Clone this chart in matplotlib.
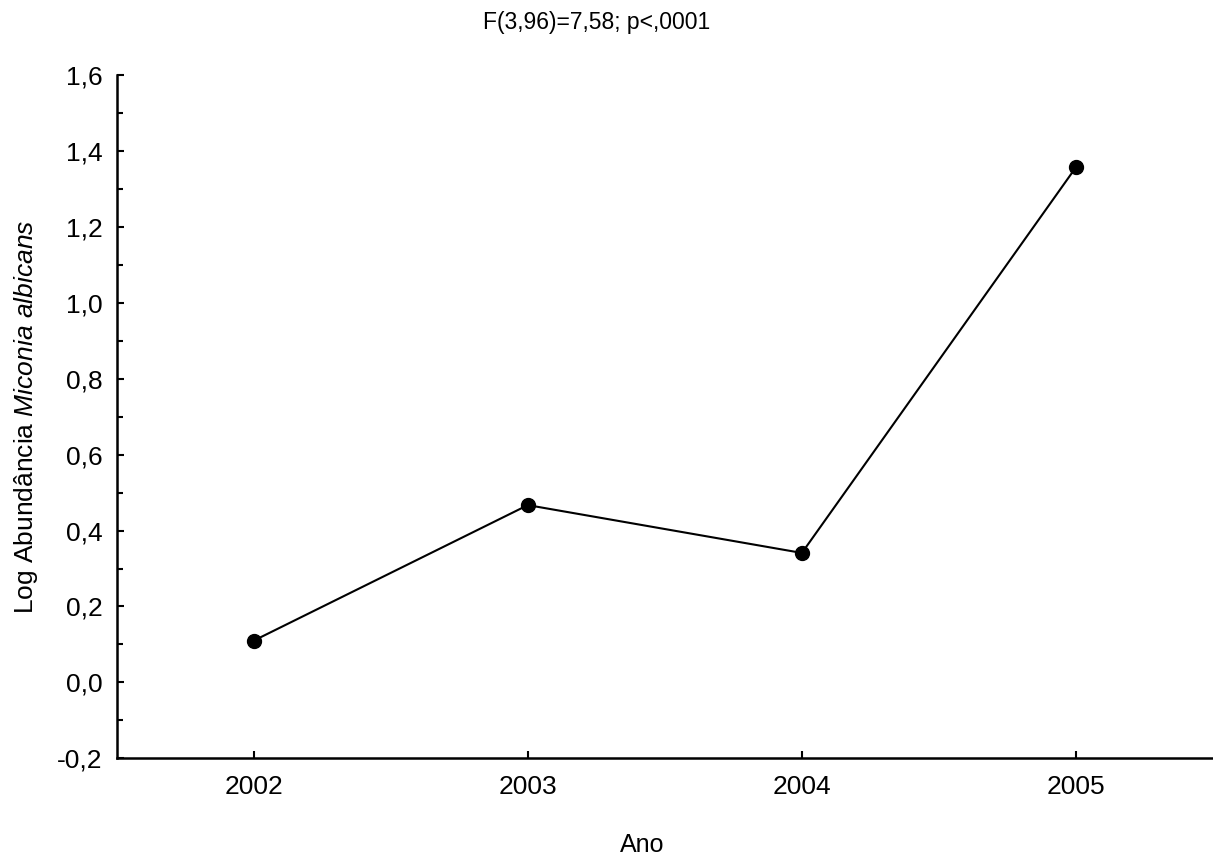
import matplotlib.pyplot as plt
from matplotlib.ticker import FuncFormatter, MultipleLocator

# data
anos = [2002, 2003, 2004, 2005]
log_abund = [0.11, 0.467, 0.341, 1.357]
titulo = "F(3,96)=7,58; p<,0001"

plt.rcParams['font.family'] = ['Liberation Sans', 'DejaVu Sans']
plt.rcParams['mathtext.fontset'] = 'custom'
plt.rcParams['mathtext.rm'] = 'Liberation Sans'
plt.rcParams['mathtext.it'] = 'Liberation Sans:italic'

fig = plt.figure(figsize=(12.13, 8.56), dpi=100)
ax = fig.add_axes([0.0962, 0.1141, 0.9038, 0.7983])

ax.plot(anos, log_abund, color='black', lw=1.5, marker='o',
        markersize=10, markerfacecolor='black', markeredgecolor='black')

ax.set_xlim(2001.5, 2005.5)
ax.set_ylim(-0.2, 1.6)
ax.set_xticks(anos)
ax.yaxis.set_major_locator(MultipleLocator(0.2))
ax.yaxis.set_minor_locator(MultipleLocator(0.1))
ax.yaxis.set_major_formatter(FuncFormatter(lambda v, p: f"{v:.1f}".replace('.', ',')))

for s in ['top', 'right']:
    ax.spines[s].set_visible(False)
for s in ['left', 'bottom']:
    ax.spines[s].set_linewidth(1.8)

ax.tick_params(axis='both', which='major', direction='in', length=5, width=1.5,
               labelsize=19)
ax.tick_params(axis='y', which='major', pad=10)
ax.tick_params(axis='x', which='major', pad=12)
ax.tick_params(axis='y', which='minor', direction='in', length=4, width=1.5)

ax.set_xlabel("Ano", fontsize=18)
ax.xaxis.set_label_coords(0.479, -0.11)
ax.set_ylabel(r"Log Abundância $\it{Miconia\ albicans}$", fontsize=19)
ax.yaxis.set_label_coords(-0.070, 0.5)

fig.text(0.492, 0.974, titulo, ha='center', va='center', fontsize=16.5)

fig.savefig("out.png", dpi=100)
